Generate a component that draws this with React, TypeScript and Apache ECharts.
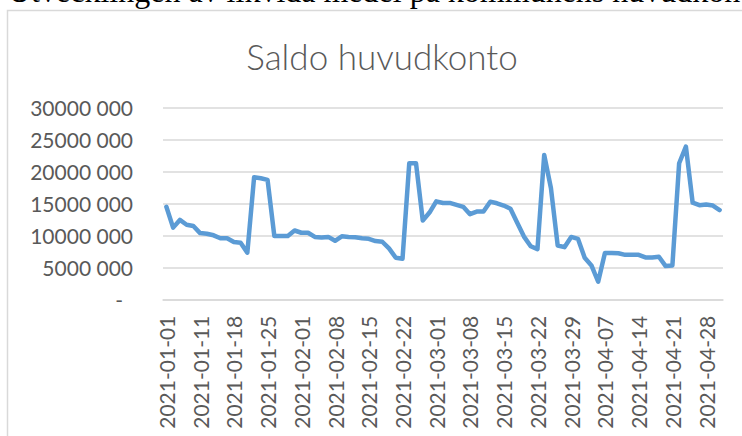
import React, { useEffect, useRef } from "react";
import * as echarts from "echarts";

const dates: string[] = [
  "2021-01-01", "2021-01-04", "2021-01-05", "2021-01-07", "2021-01-08",
  "2021-01-11", "2021-01-12", "2021-01-13", "2021-01-14", "2021-01-15",
  "2021-01-18", "2021-01-19", "2021-01-20", "2021-01-21", "2021-01-22",
  "2021-01-25", "2021-01-26", "2021-01-27", "2021-01-28", "2021-01-29",
  "2021-02-01", "2021-02-02", "2021-02-03", "2021-02-04", "2021-02-05",
  "2021-02-08", "2021-02-09", "2021-02-10", "2021-02-11", "2021-02-12",
  "2021-02-15", "2021-02-16", "2021-02-17", "2021-02-18", "2021-02-19",
  "2021-02-22", "2021-02-23", "2021-02-24", "2021-02-25", "2021-02-26",
  "2021-03-01", "2021-03-02", "2021-03-03", "2021-03-04", "2021-03-05",
  "2021-03-08", "2021-03-09", "2021-03-10", "2021-03-11", "2021-03-12",
  "2021-03-15", "2021-03-16", "2021-03-17", "2021-03-18", "2021-03-19",
  "2021-03-22", "2021-03-23", "2021-03-24", "2021-03-25", "2021-03-26",
  "2021-03-29", "2021-03-30", "2021-03-31", "2021-04-01", "2021-04-06",
  "2021-04-07", "2021-04-08", "2021-04-09", "2021-04-12", "2021-04-13",
  "2021-04-14", "2021-04-15", "2021-04-16", "2021-04-19", "2021-04-20",
  "2021-04-21", "2021-04-22", "2021-04-23", "2021-04-26", "2021-04-27",
  "2021-04-28", "2021-04-29", "2021-04-30",
];

const saldo: number[] = [
  14500000, 11250000, 12450000, 11700000, 11500000,
  10400000, 10300000, 10050000, 9600000, 9600000,
  9000000, 8900000, 7350000, 19100000, 18950000,
  18700000, 9950000, 9950000, 9950000, 10800000,
  10450000, 10450000, 9800000, 9700000, 9800000,
  9200000, 9900000, 9800000, 9750000, 9600000,
  9500000, 9150000, 9050000, 8000000, 6550000,
  6400000, 21300000, 21300000, 12350000, 13600000,
  15350000, 15100000, 15100000, 14800000, 14500000,
  13350000, 13750000, 13750000, 15300000, 15050000,
  14700000, 14200000, 12000000, 9850000, 8350000,
  7900000, 22600000, 17400000, 8450000, 8200000,
  9800000, 9500000, 6550000, 5350000, 2800000,
  7300000, 7300000, 7250000, 7000000, 7000000,
  7000000, 6600000, 6600000, 6700000, 5250000,
  5350000, 21300000, 23900000, 15150000, 14750000,
  14850000, 14700000, 14000000,
];

const chartTitle = "Saldo huvudkonto";
const pageHeading = "Utvecklingen av likvida medel på kommunens huvudkonto";

function formatY(v: number): string {
  if (v === 0) return "{d|-}";
  const thousands = Math.floor(v / 1000);
  const rest = String(v % 1000).padStart(3, "0");
  return `${thousands} ${rest}`;
}

export default function App() {
  const ref = useRef<HTMLDivElement>(null);
  useEffect(() => {
    if (!ref.current) return;
    const chart = echarts.init(ref.current, undefined, { renderer: "svg" });
    chart.setOption({
      animation: false,
      backgroundColor: "#ffffff",
      graphic: [
        {
          type: "text",
          left: 8,
          top: -25.5,
          silent: true,
          style: {
            text: pageHeading,
            fontFamily: "Liberation Serif",
            fontSize: 32,
            fill: "#000000",
          },
        },
        {
          type: "rect",
          shape: { x: 7.5, y: 10.5, width: 800, height: 500 },
          silent: true,
          style: { fill: "none", stroke: "#D9D9D9", lineWidth: 1.5 },
        },
        {
          type: "text",
          x: 382,
          y: 56,
          silent: true,
          style: {
            text: chartTitle,
            fontFamily: "Lato",
            fontWeight: 300,
            fontSize: 35,
            fill: "#595959",
            align: "center",
            verticalAlign: "middle",
          },
        },
      ],
      grid: { left: 163, right: 19, top: 107.5, bottom: 136.3, containLabel: false },
      xAxis: {
        type: "category",
        data: dates,
        boundaryGap: true,
        axisLine: { show: true, lineStyle: { color: "#D9D9D9", width: 1.5 } },
        axisTick: { show: false },
        axisLabel: {
          interval: 4,
          rotate: 90,
          margin: 16,
          fontFamily: "Lato",
          fontSize: 21,
          color: "#595959",
        },
      },
      yAxis: {
        type: "value",
        min: 0,
        max: 30000000,
        interval: 5000000,
        axisLine: { show: false },
        axisTick: { show: false },
        splitLine: { lineStyle: { color: "#D9D9D9", width: 1.5 } },
        axisLabel: {
          margin: 30,
          fontFamily: "Lato",
          fontSize: 21,
          color: "#595959",
          formatter: formatY,
          rich: { d: { padding: [0, 10, 0, 0], fontFamily: "Lato", fontSize: 21, color: "#595959" } },
        },
      },
      series: [
        {
          type: "line",
          data: saldo,
          showSymbol: false,
          symbol: "none",
          lineStyle: { color: "#5B9BD5", width: 4.5, join: "round", cap: "round" },
          itemStyle: { color: "#5B9BD5" },
        },
      ],
    });
    return () => chart.dispose();
  }, []);
  return (
    <div
      ref={ref}
      style={{ position: "fixed", left: 0, top: 0, width: 742, height: 436, background: "#fff" }}
    />
  );
}
